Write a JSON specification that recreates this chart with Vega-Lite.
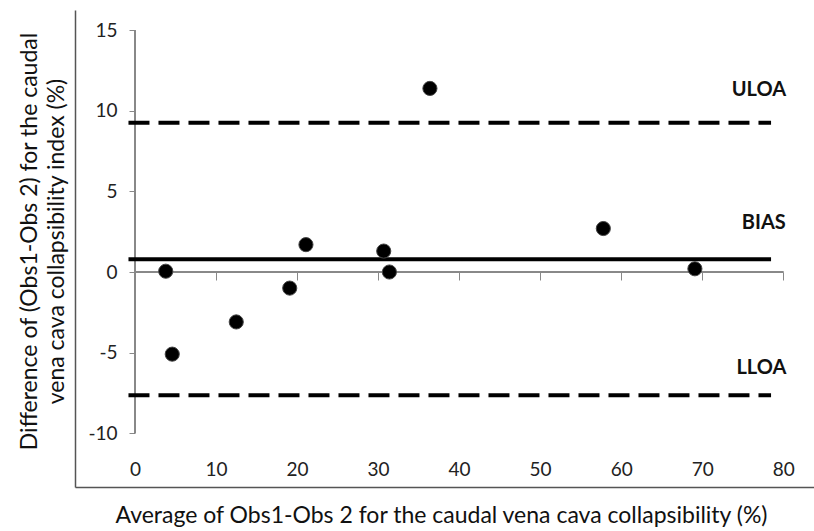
{
  "$schema": "https://vega.github.io/schema/vega-lite/v6.json",
  "width": 739,
  "height": 477,
  "autosize": "none",
  "padding": {"left": 75, "top": 10, "right": 0, "bottom": 44},
  "background": "white",
  "config": {"view": {"stroke": null}, "font": "Lato"},
  "datasets": {
    "points": [
      {"avg": 3.8, "diff": 0.05},
      {"avg": 4.6, "diff": -5.1},
      {"avg": 12.5, "diff": -3.1},
      {"avg": 19.1, "diff": -1.0},
      {"avg": 21.1, "diff": 1.7},
      {"avg": 30.7, "diff": 1.3},
      {"avg": 31.4, "diff": 0.0},
      {"avg": 36.4, "diff": 11.4},
      {"avg": 57.8, "diff": 2.7},
      {"avg": 69.1, "diff": 0.2}
    ],
    "lines": [
      {"name": "ULOA", "value": 9.27, "kind": "dashed", "lx": 77.0, "ly": 11.33},
      {"name": "BIAS", "value": 0.79, "kind": "solid", "lx": 77.6, "ly": 3.04},
      {"name": "LLOA", "value": -7.66, "kind": "dashed", "lx": 77.3, "ly": -5.96}
    ]
  },
  "resolve": {"axis": {"x": "independent", "y": "independent"}},
  "layer": [
    {
      "data": {"name": "points"},
      "mark": {"type": "rule", "color": "#888888", "strokeWidth": 1},
      "encoding": {
        "x": {"datum": 0, "type": "quantitative", "scale": {"domain": [-7.4, 83.8], "nice": false, "zero": false}, "axis": null},
        "x2": {"datum": 80},
        "y": {"datum": 0, "type": "quantitative", "scale": {"domain": [-13.35, 16.27], "nice": false, "zero": false}, "axis": null}
      }
    },
    {
      "data": {"name": "points"},
      "mark": {"type": "rule", "color": "#888888", "strokeWidth": 1},
      "encoding": {
        "x": {"datum": 0, "type": "quantitative", "axis": null},
        "y": {"datum": -10, "type": "quantitative", "axis": null},
        "y2": {"datum": 15}
      }
    },
    {
      "data": {"name": "lines"},
      "mark": {"type": "rule", "color": "black", "strokeWidth": 4},
      "encoding": {
        "x": {"datum": -0.8, "type": "quantitative",
          "axis": {"orient": "bottom", "offset": -54, "values": [0, 10, 20, 30, 40, 50, 60, 70, 80], "domain": false, "ticks": false, "tickSize": 0, "grid": false, "labelFont": "Lato", "labelFontSize": 19, "labelColor": "#222222", "labelPadding": 27, "title": null}},
        "x2": {"datum": 78.5},
        "y": {"field": "value", "type": "quantitative",
          "axis": {"orient": "left", "offset": 0, "domain": true, "domainColor": "#555555", "domainWidth": 1.5, "ticks": false, "labels": false, "grid": false,
            "title": ["Difference of (Obs1-Obs 2) for the  caudal", "vena cava collapsibility index (%)"],
            "titleFont": "Lato", "titleFontSize": 23, "titleFontWeight": "normal", "titleColor": "#111111", "titleAngle": -90, "titleX": -46, "titleY": 231, "titleAlign": "center", "titleBaseline": "middle", "titleLineHeight": 27}},
        "strokeDash": {"field": "kind", "type": "nominal", "scale": {"domain": ["solid", "dashed"], "range": [[1, 0], [21, 9]]}, "legend": null}
      }
    },
    {
      "data": {"name": "lines"},
      "mark": {"type": "text", "fontWeight": "bold", "fontSize": 20, "font": "Lato", "color": "#111111", "align": "center", "baseline": "middle"},
      "encoding": {
        "x": {"field": "lx", "type": "quantitative",
          "axis": {"orient": "bottom", "offset": 0, "domain": true, "domainColor": "#555555", "domainWidth": 1.5, "ticks": false, "labels": false, "grid": false,
            "title": "Average of Obs1-Obs 2 for the caudal vena cava collapsibility (%)", "titleFont": "Lato", "titleFontSize": 23, "titleFontWeight": "normal", "titleColor": "#111111", "titlePadding": 17, "titleX": 366}},
        "y": {"field": "ly", "type": "quantitative", "axis": null},
        "text": {"field": "name"}
      }
    },
    {
      "data": {"name": "points"},
      "mark": {"type": "circle", "size": 200, "color": "black", "opacity": 1, "stroke": "#444444", "strokeWidth": 1},
      "encoding": {
        "x": {"field": "avg", "type": "quantitative",
          "axis": {"orient": "bottom", "offset": -215, "values": [0, 10, 20, 30, 40, 50, 60, 70, 80], "labels": false, "domain": false, "ticks": true, "tickSize": 8, "tickColor": "#888888", "tickWidth": 1, "grid": false, "title": null}},
        "y": {"field": "diff", "type": "quantitative",
          "axis": {"orient": "left", "offset": -60, "values": [-10, -5, 0, 5, 10, 15], "labelExpr": "replace(datum.label, '\u2212', '-')", "domain": false, "ticks": true, "tickSize": 6, "tickColor": "#888888", "tickWidth": 1, "grid": false, "labelFont": "Lato", "labelFontSize": 19, "labelColor": "#222222", "labelPadding": 12, "title": null}}
      }
    }
  ]
}
